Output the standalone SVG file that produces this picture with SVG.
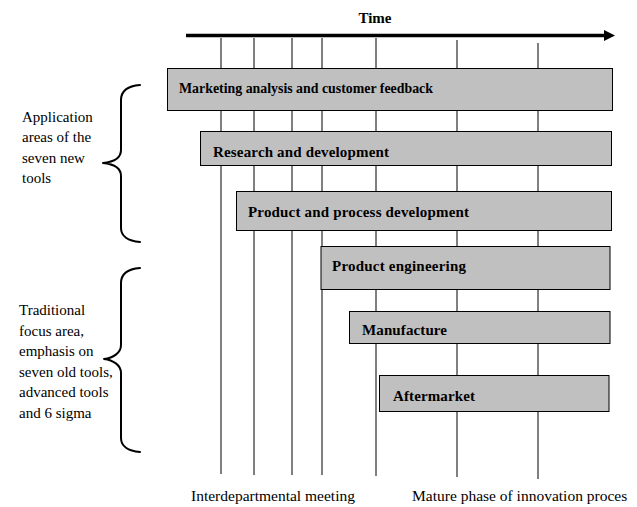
<svg xmlns="http://www.w3.org/2000/svg" width="637" height="507" viewBox="0 0 637 507">
<style>
.bar{fill:#c0c0c0;stroke:#000;stroke-width:1}
.bt{font-family:"Liberation Serif","Times New Roman",serif;font-size:15px;font-weight:bold;fill:#000}
.lt{font-family:"Liberation Serif","Times New Roman",serif;font-size:15px;fill:#000}
.bl{font-family:"Liberation Serif","Times New Roman",serif;font-size:15.5px;fill:#000}
.vl{stroke:#000;stroke-width:1;fill:none}
.brace{stroke:#000;stroke-width:2;fill:none;stroke-linecap:round;stroke-linejoin:round}
</style>
<defs>
<marker id="ah" markerWidth="12" markerHeight="12" refX="0" refY="6" orient="auto" markerUnits="userSpaceOnUse">
<polygon points="0,0.5 11,6 0,11.5" fill="#000"/>
</marker>
</defs>
<rect width="637" height="507" fill="#fff"/>
<g id="connectors">
<line class="vl" x1="221" y1="38" x2="221" y2="474"/>
<line class="vl" x1="254" y1="38" x2="254" y2="475"/>
<line class="vl" x1="292" y1="38" x2="292" y2="475"/>
<line class="vl" x1="322" y1="38" x2="322" y2="475"/>
<line class="vl" x1="376" y1="38" x2="376" y2="476"/>
<line class="vl" x1="457" y1="40" x2="457" y2="477"/>
<line class="vl" x1="538" y1="43" x2="538" y2="479"/>
<line x1="186" y1="35.5" x2="604" y2="35.5" stroke="#000" stroke-width="3.5" marker-end="url(#ah)"/>
</g>
<g id="time-label"><text class="bt" x="375" y="23" text-anchor="middle">Time</text></g>
<g id="marketing">
<rect class="bar" x="167.5" y="68.5" width="445" height="42"/>
<text class="bt" x="179" y="93" textLength="254" lengthAdjust="spacingAndGlyphs">Marketing analysis and customer feedback</text>
</g>
<g id="research">
<rect class="bar" x="200.5" y="131.5" width="411" height="34"/>
<text class="bt" x="213" y="157" textLength="176">Research and development</text>
</g>
<g id="product-process">
<rect class="bar" x="236.5" y="191.5" width="375" height="39"/>
<text class="bt" x="248" y="217" textLength="221">Product and process development</text>
</g>
<g id="product-engineering">
<rect class="bar" x="321" y="246.5" width="289" height="43"/>
<text class="bt" x="332" y="271" textLength="134">Product engineering</text>
</g>
<g id="manufacture">
<rect class="bar" x="349.5" y="311.5" width="260.5" height="32"/>
<text class="bt" x="362" y="335" textLength="85">Manufacture</text>
</g>
<g id="aftermarket">
<rect class="bar" x="379.5" y="375.5" width="229.5" height="36"/>
<text class="bt" x="393" y="401" textLength="82">Aftermarket</text>
</g>
<g id="new-tools">
<path class="brace" d="M140,85 C128,86 121,90 121,100 L121,150 C121,158 113,162 103,163 C113,164 121,168 121,176 L121,228 C121,236 128,241 140,242"/>
<text class="lt" x="22" y="122">Application</text>
<text class="lt" x="22" y="142.3">areas of the</text>
<text class="lt" x="22" y="162.7">seven new</text>
<text class="lt" x="22" y="183">tools</text>
</g>
<g id="traditional">
<path class="brace" d="M140,268 C128,269 121,273 121,283 L121,345 C121,353 113,358 104,359 C113,360 121,365 121,373 L121,438 C121,446 128,451 140,452"/>
<text class="lt" x="19" y="315">Traditional</text>
<text class="lt" x="19" y="335.5">focus area,</text>
<text class="lt" x="19" y="356">emphasis on</text>
<text class="lt" x="19" y="376.5">seven old tools,</text>
<text class="lt" x="19" y="397">advanced tools</text>
<text class="lt" x="19" y="417.5">and 6 sigma</text>
</g>
<g id="bottom-labels">
<text class="bl" x="191" y="501">Interdepartmental meeting</text>
<text class="bl" x="412" y="501">Mature phase of innovation proces</text>
</g>
</svg>
